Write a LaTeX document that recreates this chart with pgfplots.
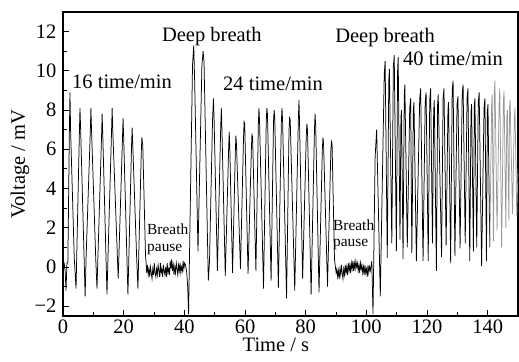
\documentclass[border=0pt]{standalone}
\usepackage{fontspec}
\setmainfont{Liberation Serif}
\usepackage{pgfplots}
\pgfplotsset{compat=1.18}
\begin{document}
\begin{tikzpicture}
\useasboundingbox (0,0) rectangle (519bp,362bp);
\begin{axis}[
  at={(63bp,46bp)}, anchor=south west,
  scale only axis, width=455bp, height=304bp,
  xmin=0, xmax=150, ymin=-2.5, ymax=13,
  xtick={0,20,...,140}, xticklabels={0,20,40,60,80,100,120,140},
  ytick={-2,0,...,12}, yticklabels={−2,0,2,4,6,8,10,12},
  minor x tick num=1, minor y tick num=1,
  tick pos=left, tick align=inside,
  major tick length=6bp, minor tick length=3.5bp,
  every tick/.style={black, line width=0.9bp},
  axis line style={line width=1.2bp},
  ticklabel style={font=\fontsize{20.5bp}{24bp}\selectfont},
  yticklabel style={xshift=-3bp},
  xlabel={Time / s}, ylabel={Voltage / mV},
  label style={font=\fontsize{20.5bp}{24bp}\selectfont},
  xlabel style={at={(axis description cs:0.468,-0.095)}, anchor=center},
  ylabel style={at={(axis description cs:-0.0945,0.5)}, anchor=center},
]
\addplot[black, line width=0.75bp] coordinates {
(0.0,0.3) (0.4,0.2) (0.7,-0.2) (1.0,-1.2) (1.3,0.2) (1.6,0.2) (2.1,6.9) (2.3,8.9) (2.5,7.0)
(3.7,0.5) (4.3,-1.1) (5.4,6.8) (5.6,8.1) (5.8,7.1) (7.3,-1.5) (7.6,0.4) (9.0,6.9) (9.2,8.1)
(9.4,7.0) (10.8,0.4) (11.2,-1.1) (12.7,6.6) (12.9,7.8) (13.1,6.8) (14.5,-1.4) (14.8,0.3) (16.0,6.9)
(16.2,8.1) (16.4,7.0) (18.2,-0.6) (19.6,6.5) (19.8,7.6) (20.0,6.6) (21.4,-1.4) (21.7,0.4) (22.6,6.2)
(22.8,7.1) (23.0,6.2) (24.3,0.4) (24.7,-1.1) (25.8,5.8) (26.0,6.6) (26.3,6.2) (27.2,0.6) (27.4,0.2)
(27.6,-0.3) (27.85,0.1) (28.1,-0.4) (28.35,-0.1) (28.6,-0.5) (28.85,0.0) (29.1,-0.3) (29.35,-0.6)
(29.6,-0.1) (29.85,-0.4) (30.1,0.2) (30.35,-0.3) (30.6,-0.5) (30.85,-0.1) (31.1,-0.4) (31.35,0.1)
(31.6,-0.2) (31.85,-0.5) (32.1,0.2) (32.35,-0.3) (32.6,-0.1) (32.85,-0.5) (33.1,0.1) (33.35,-0.2)
(33.6,-0.4) (33.85,0.0) (34.1,-0.5) (34.35,0.2) (34.6,-0.3) (34.85,-0.1) (35.1,-0.4) (35.35,0.3)
(35.6,-0.1) (35.85,0.4) (36.1,-0.2) (36.35,0.1) (36.6,-0.4) (36.85,0.0) (37.1,-0.3) (37.35,0.2)
(37.6,-0.1) (37.85,-0.4) (38.1,0.1) (38.35,-0.2) (38.6,0.2) (38.85,-0.3) (39.1,0.0) (39.35,-0.2)
(39.6,0.3) (39.85,-0.1) (40.1,0.2)
(40.4,0.1) (40.8,-0.3) (41.1,-1.0) (41.4,-2.4) (42.7,10.3) (43.1,11.3) (43.4,9.5) (44.5,0.8)
(45.8,10.3) (46.2,11.0) (46.5,10.4) (47.9,-0.7) (48.3,0.3) (49.3,7.5) (49.6,8.6) (49.8,7.6)
(50.9,-0.2) (52.0,7.2) (52.2,8.1) (52.4,7.0) (53.5,-0.45) (54.6,6.0) (54.8,6.9) (55.0,6.0)
(55.9,-0.3) (56.8,5.8) (57.0,6.7) (57.2,6.2) (58.5,-0.1) (59.5,6.5) (59.7,7.4) (59.9,7.3)
(61.0,-0.35) (62.1,6.0) (62.3,6.8) (62.5,6.6) (63.6,-0.2) (64.4,7.3) (64.6,8.1) (64.8,7.4)
(66.1,-1.1) (67.0,7.4) (67.2,8.1) (67.4,7.8) (68.6,-0.7) (69.4,7.4) (69.6,8.0) (69.8,7.6)
(71.0,-1.05) (72.0,7.5) (72.2,8.1) (72.4,7.4) (73.7,-1.6) (74.5,6.9) (74.7,7.6) (74.9,7.5)
(76.4,-1.2) (77.6,7.6) (77.8,8.5) (78.0,7.2) (79.0,-0.6) (80.2,6.7) (80.4,7.3) (80.6,7.0)
(81.8,-1.4) (82.9,7.0) (83.1,7.8) (83.3,7.2) (84.4,-1.3) (85.5,6.0) (85.7,6.6) (85.9,6.3)
(87.2,-1.0) (88.3,5.9) (88.5,6.4) (88.7,6.3) (89.5,0.4)
(89.8,0.0) (90.05,-0.3) (90.3,-0.1) (90.55,-0.5) (90.8,-0.2) (91.05,-0.6) (91.3,-0.1) (91.55,-0.4)
(91.8,0.1) (92.05,-0.3) (92.3,-0.6) (92.55,-0.1) (92.8,-0.4) (93.05,0.1) (93.3,-0.3) (93.55,0.0)
(93.8,-0.4) (94.05,0.2) (94.3,-0.2) (94.55,0.1) (94.8,-0.3) (95.05,0.2) (95.3,-0.1) (95.55,0.3)
(95.8,-0.2) (96.05,0.2) (96.3,-0.1) (96.55,0.3) (96.8,0.0) (97.05,0.2) (97.3,-0.2) (97.55,0.1)
(97.8,-0.3) (98.05,0.2) (98.3,-0.1) (98.55,0.1) (98.8,-0.3) (99.05,0.0) (99.3,-0.4) (99.55,0.1)
(99.8,-0.3) (100.05,-0.1) (100.3,-0.5) (100.55,0.1) (100.8,-0.3) (101.05,0.0) (101.3,-0.2)
(101.8,0.3) (102.2,-2.4) (102.9,5.6) (103.4,7.0) (104.6,-1.5) (105.9,9.8) (106.2,10.5)
(106.9,0.45) (107.4,9.5) (107.6,10.1) (108.4,1.2) (108.9,10.2) (109.2,10.8) (109.9,0.8)
(110.3,10.0) (110.5,10.7) (111.1,1.4) (111.4,7.6) (111.6,8.0) (112.1,0.4) (112.5,8.7) (112.7,9.3)
(113.5,1.0) (114.3,8.1) (114.6,8.6) (115.0,0.7) (115.5,8.0) (115.7,8.4) (116.5,0.3) (117.6,8.6)
(117.9,9.1) (118.7,0.3) (119.4,8.4) (119.7,8.9) (120.4,0.3) (120.9,8.5) (121.2,9.1) (121.8,1.2)
(122.2,8.0) (122.4,8.5) (123.1,-0.2) (123.5,8.3) (123.7,8.8) (124.8,0.5) (125.3,8.6) (125.6,9.1)
(126.3,1.1) (126.9,8.0) (127.1,8.4) (127.8,0.2) (128.3,9.0) (128.6,9.5) (129.2,0.55) (129.9,8.3)
(130.2,8.7) (130.9,0.95) (131.6,8.8) (131.9,9.3) (132.6,1.2) (133.2,8.6) (133.5,9.1) (134.1,0.3)
(134.5,7.9) (134.7,8.3) (135.3,0.8) (135.6,8.2) (135.8,8.6) (136.4,1.0) (136.9,8.4) (137.2,8.9)
(138.0,0.05) (138.8,8.1) (139.1,8.6) (139.6,0.3) (139.9,7.9) (140.1,8.3) (140.7,1.0)
};
\addplot[black!40, line width=0.75bp] coordinates {
(140.7,1.0) (141.3,8.3) (141.5,8.8) (141.9,1.3) (142.2,9.0) (142.4,9.5) (143.1,1.85) (143.8,8.6)
(144.0,9.1) (144.6,1.0) (145.2,8.5) (145.4,9.0) (146.0,2.0) (146.3,7.6) (146.5,8.0) (147.0,2.35)
(147.2,8.1) (147.4,8.5) (148.2,2.7) (148.8,7.7) (149.0,8.1) (149.6,2.6) (150.0,5.0)
};
\node[anchor=base west, inner sep=0, font=\fontsize{20.5bp}{24bp}\selectfont] at (axis cs:2.97,9.12) {16 time/min};
\node[anchor=base west, inner sep=0, font=\fontsize{20.5bp}{24bp}\selectfont] at (axis cs:32.6,11.5) {Deep breath};
\node[anchor=base west, inner sep=0, font=\fontsize{20.5bp}{24bp}\selectfont] at (axis cs:52.75,8.98) {24 time/min};
\node[anchor=base west, inner sep=0, font=\fontsize{20.5bp}{24bp}\selectfont] at (axis cs:89.7,11.44) {Deep breath};
\node[anchor=base west, inner sep=0, font=\fontsize{20.5bp}{24bp}\selectfont] at (axis cs:112.1,10.26) {40 time/min};
\node[anchor=base west, inner sep=0, font=\fontsize{15.4bp}{17bp}\selectfont] at (axis cs:27.7,1.68) {Breath};
\node[anchor=base west, inner sep=0, font=\fontsize{15.4bp}{17bp}\selectfont] at (axis cs:27.7,0.78) {pause};
\node[anchor=base west, inner sep=0, font=\fontsize{15.4bp}{17bp}\selectfont] at (axis cs:89.0,1.84) {Breath};
\node[anchor=base west, inner sep=0, font=\fontsize{15.4bp}{17bp}\selectfont] at (axis cs:89.0,1.02) {pause};
\end{axis}
\end{tikzpicture}
\end{document}
